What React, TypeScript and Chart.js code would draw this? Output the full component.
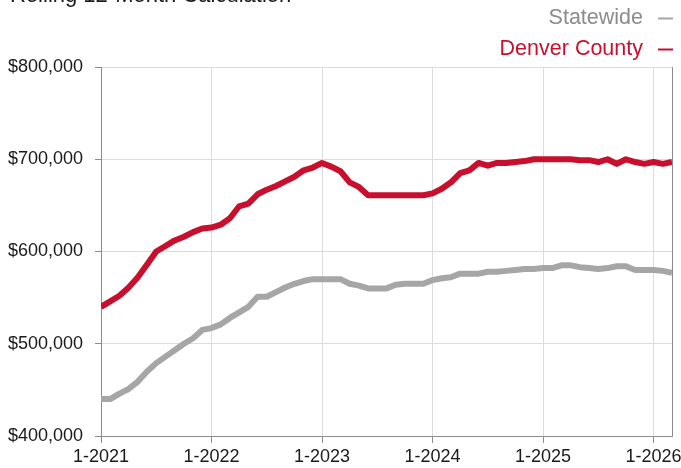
import React, { useEffect, useRef } from "react";
import { Chart, registerables } from "chart.js";

Chart.register(...registerables);

const months: string[] = Array.from({ length: 63 }, (_, i) => `${(i % 12) + 1}-${2021 + Math.floor(i / 12)}`);

const xTickLabels = ["1-2021", "1-2022", "1-2023", "1-2024", "1-2025", "1-2026"];

const denverCounty = [
  540000, 546000, 552000, 561000, 572000, 586000, 600000, 606000, 612000, 616000, 621000, 625000,
  626000, 629000, 636000, 649000, 652000, 662000, 667000, 671000, 676000, 681000, 688000, 691000,
  696000, 692000, 687000, 675000, 670000, 661000, 661000, 661000, 661000, 661000, 661000, 661000,
  663000, 668000, 675000, 685000, 688000, 696000, 693000, 696000, 696000, 697000, 698000, 700000,
  700000, 700000, 700000, 700000, 699000, 699000, 697000, 700000, 695000, 700000, 697000, 695000,
  697000, 695000, 697000,
];

const statewide = [
  440000, 440000, 446000, 451000, 459000, 470000, 479000, 486000, 493000, 500000, 506000, 515000,
  517000, 521000, 528000, 534000, 540000, 551000, 551000, 556000, 561000, 565000, 568000, 570000,
  570000, 570000, 570000, 565000, 563000, 560000, 560000, 560000, 564000, 565000, 565000, 565000,
  569000, 571000, 572000, 576000, 576000, 576000, 578000, 578000, 579000, 580000, 581000, 581000,
  582000, 582000, 585000, 585000, 583000, 582000, 581000, 582000, 584000, 584000, 580000, 580000,
  580000, 579000, 577000,
];

const titleText = "Rolling 12-Month Calculation";
const seriesNames = ["Statewide", "Denver County"];
const RED = "#c8102e";
const GRAY = "#a6a6a6";
const FONT = '"Liberation Sans", Arial, Helvetica, sans-serif';

export default function App() {
  const ref = useRef<HTMLCanvasElement | null>(null);

  useEffect(() => {
    if (!ref.current) return;
    Chart.defaults.font.family = FONT;

    const decor = {
      id: "decor",
      beforeDatasetsDraw(chart: any) {
        const { ctx, chartArea } = chart;
        ctx.save();
        ctx.strokeStyle = "#8c8c8c";
        ctx.lineWidth = 1;
        ctx.beginPath();
        ctx.moveTo(Math.round(chartArea.right) + 0.5, chartArea.top);
        ctx.lineTo(Math.round(chartArea.right) + 0.5, chartArea.bottom);
        ctx.stroke();
        ctx.restore();
      },
      afterDraw(chart: any) {
        const { ctx } = chart;
        ctx.save();
        ctx.font = `22px ${FONT}`;
        ctx.fillStyle = "#1a1a1a";
        ctx.textAlign = "left";
        ctx.textBaseline = "alphabetic";
        ctx.fillText(titleText, 10, 2);

        const items = [
          { text: seriesNames[0], color: "#8c8c8c", line: GRAY, y: 18 },
          { text: seriesNames[1], color: RED, line: RED, y: 49 },
        ];
        ctx.font = `21.5px ${FONT}`;
        ctx.textAlign = "right";
        ctx.textBaseline = "middle";
        for (const it of items) {
          ctx.fillStyle = it.color;
          ctx.fillText(it.text, 643, it.y);
          ctx.strokeStyle = it.line;
          ctx.lineWidth = 2;
          ctx.beginPath();
          ctx.moveTo(658, it.y + 0.5);
          ctx.lineTo(673, it.y + 0.5);
          ctx.stroke();
        }
        ctx.restore();
      },
    };

    const chart = new Chart(ref.current, {
      type: "line",
      data: {
        labels: months,
        datasets: [
          {
            label: seriesNames[0],
            data: statewide.map((v, i) => ({ x: i, y: v })),
            borderColor: GRAY,
            backgroundColor: GRAY,
            borderWidth: 6,
            pointRadius: 0,
            tension: 0,
            borderJoinStyle: "round",
          },
          {
            label: seriesNames[1],
            data: denverCounty.map((v, i) => ({ x: i, y: v })),
            borderColor: RED,
            backgroundColor: RED,
            borderWidth: 6,
            pointRadius: 0,
            tension: 0,
            borderJoinStyle: "round",
          },
        ],
      },
      options: {
        responsive: false,
        animation: false,
        layout: { padding: { top: 67, right: 9, left: 0, bottom: 0 } },
        plugins: {
          legend: { display: false },
          title: { display: false },
          tooltip: { enabled: false },
        },
        scales: {
          x: {
            type: "linear",
            min: 0,
            max: months.length - 1,
            afterFit(scale: any) {
              scale.height = 32;
              scale.paddingRight = 0;
              scale.paddingLeft = 0;
            },
            ticks: {
              stepSize: 12,
              includeBounds: false,
              autoSkip: false,
              maxRotation: 0,
              padding: 3,
              color: "#1a1a1a",
              font: { size: 18 },
              callback: (v: any) => xTickLabels[Math.round(Number(v) / 12)] ?? "",
            },
            grid: {
              color: "#dcdcdc",
              tickColor: "#8c8c8c",
              tickLength: 7,
              lineWidth: 1,
            },
            border: { color: "#8c8c8c", width: 1 },
          },
          y: {
            min: 400000,
            max: 800000,
            afterFit(scale: any) {
              scale.width = 101;
            },
            ticks: {
              stepSize: 100000,
              padding: 12,
              color: "#1a1a1a",
              font: { size: 18 },
              callback: (v: any) => "$" + Number(v).toLocaleString("en-US"),
            },
            grid: {
              color: "#dcdcdc",
              tickColor: "#8c8c8c",
              tickLength: 6,
              lineWidth: 1,
            },
            border: { color: "#8c8c8c", width: 1 },
          },
        },
      },
      plugins: [decor],
    });
    return () => chart.destroy();
  }, []);

  return (
    <div style={{ position: "absolute", left: 0, top: 0, width: 681, height: 468 }}>
      <canvas ref={ref} width={681} height={468} style={{ width: 681, height: 468 }} />
    </div>
  );
}
